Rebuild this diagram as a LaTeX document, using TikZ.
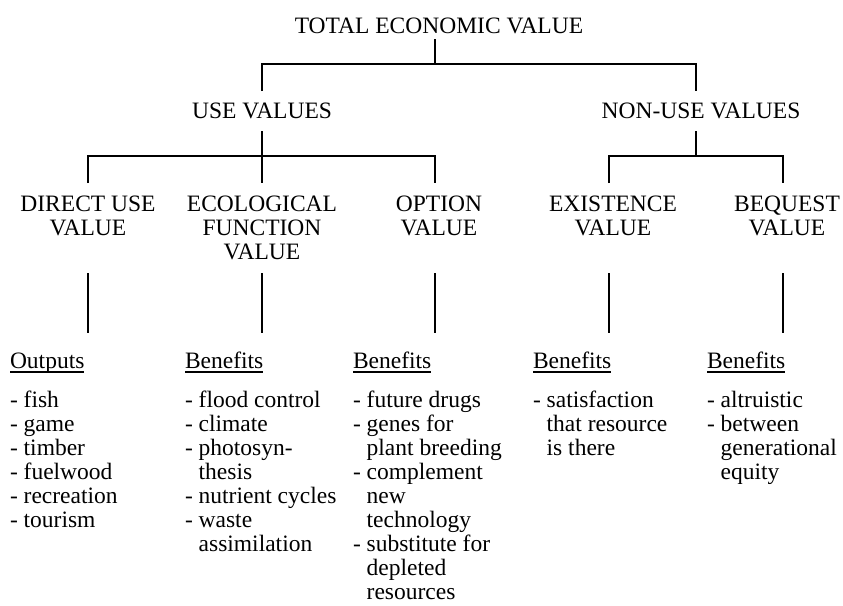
\documentclass[tikz,border=0pt]{standalone}
\usepackage{fontspec}
\setmainfont{Liberation Serif}
\newcommand\mkhead[1]{\begin{tabular}[t]{@{}c@{}}#1\end{tabular}}
\newcommand\mklist[1]{\begin{tabular}[t]{@{}l@{}}#1\end{tabular}}
\newcommand\cnt{\hphantom{-\ }}
\begin{document}
\begin{tikzpicture}[x=1pt,y=-1pt,
  every node/.style={inner sep=0pt, outer sep=0pt, anchor=base, font=\fontsize{23.5}{24}\selectfont},
  conn/.style={line width=1.8pt, line cap=butt, line join=miter},
  uline/.style={line width=1.1pt},
  colhead/.style={anchor=base west},
  collist/.style={anchor=base west}]
\useasboundingbox[fill=white] (0,0) rectangle (843,605);

% level 0 and 1
\node (tev) at (439,33) {TOTAL ECONOMIC VALUE};
\node (use) at (262,118) {USE VALUES};
\node (nonuse) at (701,118) {NON-USE VALUES};

% level 2
\node (direct) at (88,211) {\mkhead{DIRECT USE\\VALUE}};
\node (eco) at (262,211) {\mkhead{ECOLOGICAL\\FUNCTION\\VALUE}};
\node (option) at (439,211) {\mkhead{OPTION\\VALUE}};
\node (exist) at (613,211) {\mkhead{EXISTENCE\\VALUE}};
\node (bequest) at (787,211) {\mkhead{BEQUEST\\VALUE}};

% column headers
\node[colhead] (h1) at (10,368) {Outputs};
\node[colhead] (h2) at (185,368) {Benefits};
\node[colhead] (h3) at (353,368) {Benefits};
\node[colhead] (h4) at (533,368) {Benefits};
\node[colhead] (h5) at (707,368) {Benefits};
\foreach \h in {h1,h2,h3,h4,h5}
  \draw[uline] ([yshift=-4pt]\h.base west) -- ([yshift=-4pt]\h.base east);

% lists
\node[collist] (l1) at (10,407) {\mklist{- fish\\- game\\- timber\\- fuelwood\\- recreation\\- tourism}};
\node[collist] (l2) at (185,407) {\mklist{- flood control\\- climate\\- photosyn-\\\cnt thesis\\- nutrient cycles\\- waste\\\cnt assimilation}};
\node[collist] (l3) at (353,407) {\mklist{- future drugs\\- genes for\\\cnt plant breeding\\- complement\\\cnt new\\\cnt technology\\- substitute for\\\cnt depleted\\\cnt resources}};
\node[collist] (l4) at (533,407) {\mklist{- satisfaction\\\cnt that resource\\\cnt is there}};
\node[collist] (l5) at (707,407) {\mklist{- altruistic\\- between\\\cnt generational\\\cnt equity}};

% junction coordinates
\coordinate (t0) at (435,39);
\coordinate (t1) at (435,64);
\coordinate (tL) at (262,64);
\coordinate (tR) at (696,64);
\coordinate (tLd) at (262,91);
\coordinate (tRd) at (696,91);

\coordinate (u0) at (262,131);
\coordinate (u1) at (262,156);
\coordinate (n0) at (696,131);
\coordinate (n1) at (696,156);
\coordinate (b1) at (88,156);
\coordinate (b3) at (435,156);
\coordinate (b4) at (609,156);
\coordinate (b5) at (783,156);

% connectors
\draw[conn] (t0) -- (t1);
\draw[conn] (tLd) -- (tL) -- (tR) -- (tRd);
\draw[conn] (u0) -- (u1);
\draw[conn] (n0) -- (n1);
\draw[conn] (b1 |- 0,183) -- (b1) -- (b3) -- (b3 |- 0,183);
\draw[conn] (u1) -- (u1 |- 0,183);
\draw[conn] (b4 |- 0,183) -- (b4) -- (b5) -- (b5 |- 0,183);

% lower connectors
\foreach \x in {88,262,435,609,783}
  \draw[conn] (\x,273) -- (\x,333);
\end{tikzpicture}
\end{document}
